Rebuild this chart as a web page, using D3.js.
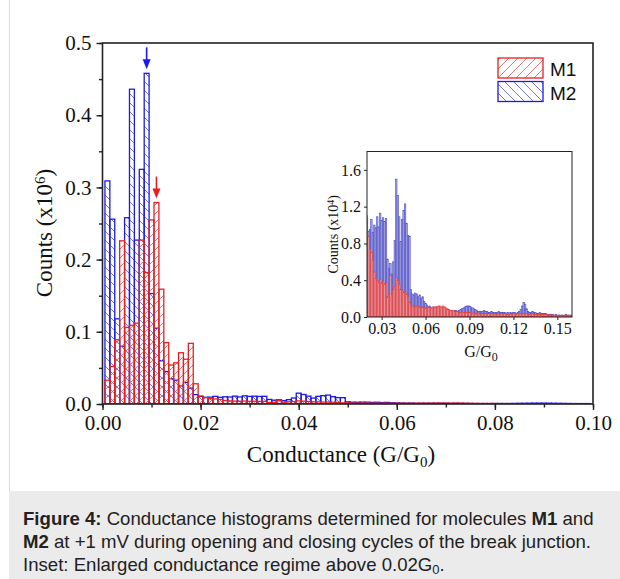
<!DOCTYPE html>
<html>
<head>
<meta charset="utf-8">
<script src="https://cdn.jsdelivr.net/npm/d3@7"></script>
<style>
  html, body { margin: 0; padding: 0; background: #fff; }
  svg { display: block; }
  .serif { font-family: "Liberation Serif", "Times New Roman", serif; fill: #111; }
  .sans { font-family: "Liberation Sans", Arial, sans-serif; }
</style>
</head>
<body>
<svg id="chart" width="620" height="579"></svg>
<script>
// bins are 0.001 G0 wide, first bin centred on 0.001
const binStep = 0.001;

// counts in units of 10^4, bins 0.001 ... 0.159
const m1Counts = [
  3.3, 5.2, 8.9, 22.6, 10.6, 10.9, 11.2, 22.7, 18.2, 25.5,
  27.9, 15.9, 8.5, 5.4, 5.7, 7.1, 6.2, 8.4, 2.8, 1.1,
  0.88, 0.74, 0.70, 0.62, 0.49, 0.42, 0.40, 0.38, 0.41, 0.37,
  0.39, 0.36, 0.37, 0.22, 0.24, 0.45, 0.25, 0.30, 0.33, 0.43,
  0.40, 0.35, 0.30, 0.29, 0.27, 0.27, 0.25, 0.22, 0.16, 0.14,
  0.12, 0.12, 0.11, 0.12, 0.11, 0.11, 0.10, 0.11, 0.10, 0.10,
  0.10, 0.11, 0.10, 0.10, 0.11, 0.10, 0.11, 0.11, 0.12, 0.12,
  0.11, 0.12, 0.11, 0.10, 0.09, 0.08, 0.07, 0.07, 0.07, 0.06,
  0.06, 0.06, 0.05, 0.05, 0.06, 0.05, 0.05, 0.05, 0.05, 0.05,
  0.05, 0.04, 0.05, 0.04, 0.04, 0.05, 0.04, 0.04, 0.04, 0.04,
  0.04, 0.04, 0.04, 0.04, 0.04, 0.04, 0.04, 0.03, 0.04, 0.04,
  0.04, 0.04, 0.04, 0.04, 0.04, 0.03, 0.04, 0.04, 0.03, 0.04,
  0.04, 0.03, 0.04, 0.04, 0.04, 0.04, 0.04, 0.04, 0.04, 0.03,
  0.03, 0.04, 0.04, 0.03, 0.03, 0.03, 0.03, 0.03, 0.03, 0.03,
  0.03, 0.03, 0.03, 0.02, 0.03, 0.02, 0.02, 0.02, 0.02, 0.02,
  0.02, 0.02, 0.02, 0.02, 0.02, 0.02, 0.02, 0.02, 0.02
];

const m2Counts = [
  30.9, 25.6, 11.8, 8.0, 25.8, 43.6, 22.7, 32.5, 45.8, 15.3,
  10.5, 6.0, 4.5, 3.5, 3.3, 2.5, 3.0, 2.2, 1.3, 1.05,
  0.93, 0.95, 1.06, 0.92, 1.00, 0.97, 1.09, 0.98, 1.13, 1.05,
  1.08, 1.04, 1.07, 0.63, 0.53, 0.58, 0.47, 0.60, 0.83, 1.50,
  1.32, 1.09, 0.82, 1.06, 1.16, 1.23, 1.02, 0.89, 0.88, 0.30,
  0.25, 0.24, 0.26, 0.25, 0.22, 0.24, 0.20, 0.22, 0.17, 0.15,
  0.13, 0.11, 0.12, 0.10, 0.10, 0.11, 0.10, 0.11, 0.10, 0.10,
  0.09, 0.10, 0.09, 0.08, 0.07, 0.06, 0.06, 0.06, 0.06, 0.07,
  0.07, 0.06, 0.07, 0.08, 0.09, 0.10, 0.11, 0.12, 0.12, 0.12,
  0.11, 0.10, 0.09, 0.08, 0.07, 0.06, 0.06, 0.06, 0.06, 0.07,
  0.06, 0.06, 0.05, 0.05, 0.06, 0.05, 0.05, 0.05, 0.05, 0.06,
  0.05, 0.05, 0.05, 0.05, 0.04, 0.05, 0.04, 0.05, 0.04, 0.05,
  0.05, 0.04, 0.05, 0.06, 0.08, 0.12, 0.16, 0.14, 0.09, 0.06,
  0.05, 0.05, 0.06, 0.05, 0.05, 0.04, 0.04, 0.05, 0.04, 0.04,
  0.04, 0.04, 0.03, 0.03, 0.03, 0.03, 0.03, 0.02, 0.03, 0.02,
  0.02, 0.02, 0.02, 0.02, 0.02, 0.03, 0.02, 0.02, 0.02
];

const seriesNames = ["M1", "M2"];

// main panel axes
const mainXTicks = [0, 0.02, 0.04, 0.06, 0.08, 0.10];
const mainYTicks = [0, 0.1, 0.2, 0.3, 0.4, 0.5];

// inset axes
const insetXTicks = [0.03, 0.06, 0.09, 0.12, 0.15];
const insetYTicks = [0, 0.4, 0.8, 1.2, 1.6];

// peak markers: series and bin centre
const peakArrows = [
  { series: "M2", g: 0.009 },
  { series: "M1", g: 0.011 }
];

const captionLines = [
  [["Figure 4:", true], [" Conductance histograms determined for molecules ", false], ["M1", true], [" and", false]],
  [["M2", true], [" at +1 mV during opening and closing cycles of the break junction.", false]],
  [["Inset: Enlarged conductance regime above 0.02G", false], ["0", false, "sub"], [".", false]]
];

(function () {
  const svg = d3.select("#chart");

  const colors = {
    M1: { line: "#ee1c1c", hatch: "#d86a6a", fill: "#f2a9a9", bar: "#e23a3a" },
    M2: { line: "#1a1aee", hatch: "#6a6ad0", fill: "#a9a9dc", bar: "#4b4bc8" }
  };

  function binsFor(counts) {
    return counts.map((c, i) => ({ g: (i + 1) * binStep, c }));
  }
  const data = {
    M1: binsFor(m1Counts),
    M2: binsFor(m2Counts)
  };

  // ---------- defs: hatch patterns ----------
  const defs = svg.append("defs");
  function hatch(id, color, forward) {
    const s = 9;
    const p = defs.append("pattern")
      .attr("id", id)
      .attr("patternUnits", "userSpaceOnUse")
      .attr("width", s).attr("height", s);
    const d = forward
      ? `M-2,2 l4,-4 M0,${s} l${s},-${s} M${s - 2},${s + 2} l4,-4`
      : `M-2,${s - 2} l4,4 M0,0 l${s},${s} M${s - 2},-2 l4,4`;
    p.append("path").attr("d", d)
      .attr("stroke", color).attr("stroke-width", 0.9).attr("fill", "none");
  }
  hatch("hatch-M1", colors.M1.hatch, true);
  hatch("hatch-M2", colors.M2.hatch, false);

  // ---------- figure frame + caption ----------
  svg.append("line")
    .attr("x1", 9.5).attr("x2", 9.5).attr("y1", 0).attr("y2", 491)
    .attr("stroke", "#dcdcdc").attr("stroke-width", 1);

  svg.append("rect")
    .attr("x", 9).attr("y", 491).attr("width", 611).attr("height", 88)
    .attr("fill", "#ebebeb");

  const caption = svg.append("g").attr("class", "sans");
  captionLines.forEach((parts, i) => {
    const t = caption.append("text")
      .attr("x", 23).attr("y", 525 + i * 23)
      .attr("font-size", 18.6).attr("fill", "#222");
    parts.forEach(([str, bold, shift]) => {
      const ts = t.append("tspan").text(str);
      if (bold) ts.attr("font-weight", "bold");
      if (shift === "sub") ts.attr("font-size", 13).attr("baseline-shift", "-25%");
    });
  });

  // ---------- main panel ----------
  const main = { left: 102.5, right: 593, top: 43, bottom: 404 };

  const x = d3.scaleLinear().domain([0, 0.1]).range([main.left, main.right]);
  const y = d3.scaleLinear().domain([0, 0.5]).range([main.bottom, main.top]);

  defs.append("clipPath").attr("id", "clip-main")
    .append("rect")
    .attr("x", main.left).attr("y", main.top)
    .attr("width", main.right - main.left).attr("height", main.bottom - main.top);

  const gBars = svg.append("g").attr("clip-path", "url(#clip-main)");
  seriesNames.slice().reverse().forEach((name) => {
    gBars.append("g")
      .selectAll("rect")
      .data(data[name].filter((d) => d.g < 0.1))
      .join("rect")
      .attr("x", (d) => x(d.g - binStep / 2))
      .attr("width", (d) => x(d.g + binStep / 2) - x(d.g - binStep / 2))
      .attr("y", (d) => y(d.c / 100))
      .attr("height", (d) => y(0) - y(d.c / 100))
      .attr("fill", `url(#hatch-${name})`)
      .attr("stroke", colors[name].line)
      .attr("stroke-width", 1.3);
  });

  // axes
  const axisStyle = (g) => {
    g.select(".domain").remove();
    g.selectAll("line").attr("stroke", "#222").attr("stroke-width", 1.4);
  };

  svg.append("g")
    .attr("transform", `translate(0,${main.bottom})`)
    .call(d3.axisBottom(x).tickValues(d3.range(0, 0.1001, 0.01)).tickSize(3.5).tickFormat(""))
    .call(axisStyle);
  svg.append("g")
    .attr("transform", `translate(${main.left},0)`)
    .call(d3.axisLeft(y).tickValues(d3.range(0, 0.5001, 0.05)).tickSize(3.5).tickFormat(""))
    .call(axisStyle);

  svg.append("g")
    .attr("transform", `translate(0,${main.bottom})`)
    .call(d3.axisBottom(x).tickValues(mainXTicks).tickSize(6).tickPadding(5).tickFormat(d3.format(".2f")))
    .call(axisStyle)
    .call((g) => g.selectAll("text")
      .attr("font-family", "Liberation Serif").attr("font-size", 21).attr("fill", "#111"));

  svg.append("g")
    .attr("transform", `translate(${main.left},0)`)
    .call(d3.axisLeft(y).tickValues(mainYTicks).tickSize(6).tickPadding(5).tickFormat(d3.format(".1f")))
    .call(axisStyle)
    .call((g) => g.selectAll("text")
      .attr("font-family", "Liberation Serif").attr("font-size", 21).attr("fill", "#111"));

  svg.append("rect")
    .attr("x", main.left).attr("y", main.top)
    .attr("width", main.right - main.left).attr("height", main.bottom - main.top)
    .attr("fill", "none").attr("stroke", "#222").attr("stroke-width", 1.6);

  // axis titles
  const xTitle = svg.append("text").attr("class", "serif")
    .attr("x", 341).attr("y", 462)
    .attr("text-anchor", "middle").attr("font-size", 23);
  xTitle.append("tspan").text("Conductance (G/G");
  xTitle.append("tspan").text("0").attr("font-size", 15).attr("baseline-shift", "-30%");
  xTitle.append("tspan").text(")");

  const yTitle = svg.append("text").attr("class", "serif")
    .attr("transform", "translate(52,233) rotate(-90)")
    .attr("text-anchor", "middle").attr("font-size", 23);
  yTitle.append("tspan").text("Counts (x10");
  yTitle.append("tspan").text("6").attr("font-size", 15).attr("baseline-shift", "45%");
  yTitle.append("tspan").text(")");

  // peak arrows
  const arrows = svg.append("g");
  peakArrows.forEach(({ series, g }) => {
    const bin = data[series].find((d) => Math.abs(d.g - g) < 1e-9);
    const ax = x(g);
    const tip = y(bin.c / 100) - 4;
    const col = colors[series].line;
    arrows.append("line")
      .attr("x1", ax).attr("x2", ax).attr("y1", tip - 22).attr("y2", tip - 8)
      .attr("stroke", col).attr("stroke-width", 1.6);
    arrows.append("path")
      .attr("d", `M${ax - 4},${tip - 10} L${ax + 4},${tip - 10} L${ax},${tip} Z`)
      .attr("fill", col);
  });

  // legend
  const legend = svg.append("g");
  seriesNames.forEach((name, i) => {
    const ly = 58 + i * 23.5;
    legend.append("rect")
      .attr("x", 498).attr("y", ly).attr("width", 45).attr("height", 20)
      .attr("fill", `url(#hatch-${name})`)
      .attr("stroke", colors[name].line).attr("stroke-width", 1.3);
    legend.append("text").attr("class", "sans")
      .attr("x", 550).attr("y", ly + 18)
      .attr("font-size", 19).attr("fill", "#111")
      .text(name);
  });

  // ---------- inset ----------
  const inset = { left: 367, right: 572, top: 151.5, bottom: 317 };
  const xi = d3.scaleLinear().domain([0.02, 0.16]).range([inset.left, inset.right]);
  const yi = d3.scaleLinear().domain([0, 1.8]).range([inset.bottom, inset.top]);

  svg.append("rect")
    .attr("x", inset.left).attr("y", inset.top)
    .attr("width", inset.right - inset.left).attr("height", inset.bottom - inset.top)
    .attr("fill", "#fff");

  defs.append("clipPath").attr("id", "clip-inset")
    .append("rect")
    .attr("x", inset.left).attr("y", inset.top)
    .attr("width", inset.right - inset.left).attr("height", inset.bottom - inset.top);

  const gInset = svg.append("g").attr("clip-path", "url(#clip-inset)");
  seriesNames.slice().reverse().forEach((name) => {
    gInset.append("g")
      .selectAll("rect")
      .data(data[name].filter((d) => d.g >= 0.02))
      .join("rect")
      .attr("x", (d) => xi(d.g - binStep / 2))
      .attr("width", (d) => xi(d.g + binStep / 2) - xi(d.g - binStep / 2))
      .attr("y", (d) => yi(d.c))
      .attr("height", (d) => yi(0) - yi(d.c))
      .attr("fill", colors[name].fill)
      .attr("fill-opacity", name === "M1" ? 0.85 : 1)
      .attr("stroke", colors[name].bar)
      .attr("stroke-width", 0.6);
  });

  const insetAxisStyle = (g) => {
    g.select(".domain").remove();
    g.selectAll("line").attr("stroke", "#222").attr("stroke-width", 1);
    g.selectAll("text")
      .attr("font-family", "Liberation Serif").attr("font-size", 16).attr("fill", "#111");
  };

  svg.append("g")
    .attr("transform", `translate(0,${inset.bottom})`)
    .call(d3.axisBottom(xi).tickValues(insetXTicks).tickSize(3).tickPadding(3).tickFormat(d3.format(".2f")))
    .call(insetAxisStyle);

  svg.append("g")
    .attr("transform", `translate(${inset.left},0)`)
    .call(d3.axisLeft(yi).tickValues(insetYTicks).tickSize(3).tickPadding(3).tickFormat(d3.format(".1f")))
    .call(insetAxisStyle);

  svg.append("rect")
    .attr("x", inset.left).attr("y", inset.top)
    .attr("width", inset.right - inset.left).attr("height", inset.bottom - inset.top)
    .attr("fill", "none").attr("stroke", "#222").attr("stroke-width", 1);

  const xiTitle = svg.append("text").attr("class", "serif")
    .attr("x", 481).attr("y", 357)
    .attr("text-anchor", "middle").attr("font-size", 16);
  xiTitle.append("tspan").text("G/G");
  xiTitle.append("tspan").text("0").attr("font-size", 12).attr("baseline-shift", "-30%");

  const yiTitle = svg.append("text").attr("class", "serif")
    .attr("transform", `translate(338,${(inset.top + inset.bottom) / 2}) rotate(-90)`)
    .attr("text-anchor", "middle").attr("font-size", 14);
  yiTitle.append("tspan").text("Counts (x10");
  yiTitle.append("tspan").text("4").attr("font-size", 10).attr("baseline-shift", "45%");
  yiTitle.append("tspan").text(")");
})();
</script>
</body>
</html>
